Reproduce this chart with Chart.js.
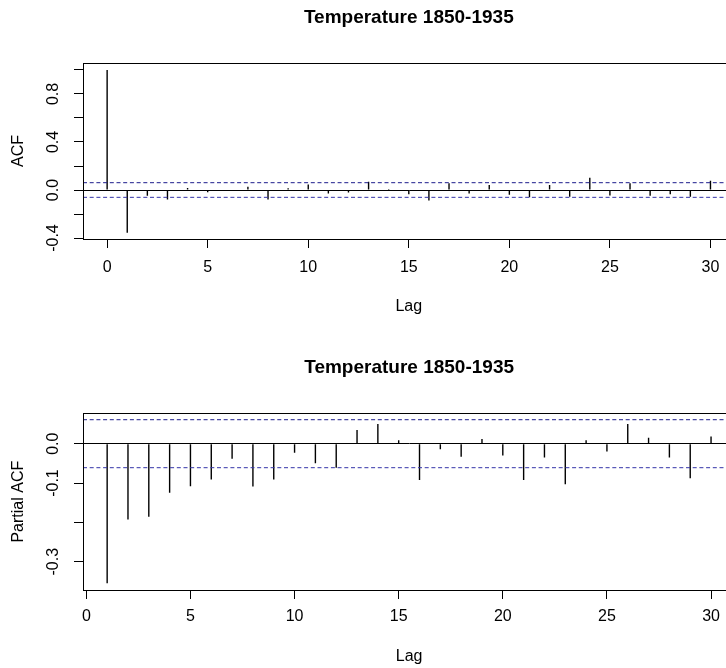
<!DOCTYPE html>
<html><head><meta charset="utf-8">
<script src="https://cdn.jsdelivr.net/npm/chart.js@4.4.1/dist/chart.umd.min.js"></script>
<style>
html,body{margin:0;padding:0;background:#fff;overflow:hidden;width:726px;height:668px;position:relative;}
canvas{position:absolute;left:0;}
</style></head><body>
<canvas id="c1" width="800" height="334" style="top:0px"></canvas>
<canvas id="c2" width="800" height="334" style="top:334px"></canvas>
<script>
const chartTitle = 'Temperature 1850-1935';
const acfLags = [0,1,2,3,4,5,6,7,8,9,10,11,12,13,14,15,16,17,18,19,20,21,22,23,24,25,26,27,28,29,30];
const acfValues = [1.000,-0.356,-0.047,-0.080,0.016,-0.019,0.004,0.028,-0.078,0.014,0.045,-0.028,-0.020,0.069,0.008,-0.036,-0.087,0.056,-0.028,0.042,-0.039,-0.061,0.042,-0.056,0.103,-0.045,0.056,-0.047,-0.036,-0.056,0.077];
const pacfLags = [1,2,3,4,5,6,7,8,9,10,11,12,13,14,15,16,17,18,19,20,21,22,23,24,25,26,27,28,29,30];
const pacfValues = [-0.355,-0.193,-0.186,-0.125,-0.108,-0.091,-0.038,-0.109,-0.091,-0.023,-0.050,-0.061,0.035,0.050,0.009,-0.092,-0.014,-0.033,0.012,-0.030,-0.092,-0.035,-0.103,0.009,-0.020,0.050,0.015,-0.035,-0.088,0.018];
const ciLimit = 0.061;
const xTickLabels = ['0','5','10','15','20','25','30'];
const acfYTickLabels = ['-0.4','0.0','0.4','0.8'];
const pacfYTickLabels = ['-0.3','-0.1','0.0'];

Chart.defaults.font.family = "'Liberation Sans', Arial, sans-serif";
Chart.defaults.color = '#000';

const framePlugin = {
  id: 'frame',
  afterDraw(chart) {
    const a = chart.chartArea, c = chart.ctx;
    c.save();
    c.strokeStyle = '#000'; c.lineWidth = 1;
    c.strokeRect(Math.round(a.left) + 0.5, Math.round(a.top) + 0.5, Math.round(a.right - a.left), Math.round(a.bottom - a.top));
    c.restore();
  }
};

function makePanel(id, o) {
  new Chart(document.getElementById(id), {
    type: 'bar',
    data: {
      datasets: [
        { type: 'bar', data: o.lags.map((l, i) => ({ x: l, y: o.values[i] })), backgroundColor: '#000', borderWidth: 0, barThickness: 1.4, inflateAmount: 0, grouped: false, order: 2 },
        { type: 'line', data: [{ x: o.xMin, y: o.ci }, { x: o.xMax, y: o.ci }], borderColor: '#1c1c8c', borderWidth: 1, borderDash: [4, 2.7], pointRadius: 0, fill: false, order: 1 },
        { type: 'line', data: [{ x: o.xMin, y: -o.ci }, { x: o.xMax, y: -o.ci }], borderColor: '#3434a8', borderWidth: 1, borderDash: [4, 2.7], pointRadius: 0, fill: false, order: 1 }
      ]
    },
    options: {
      responsive: false, animation: false, devicePixelRatio: 1,
      layout: { padding: { left: 0, right: o.padRight, top: 0, bottom: 0 } },
      plugins: {
        legend: { display: false }, tooltip: { enabled: false },
        title: { display: true, text: chartTitle, fullSize: false, color: '#000', font: { size: 19, weight: 'bold' }, padding: { top: o.titleTop, bottom: o.titleBottom } }
      },
      scales: {
        x: {
          type: 'linear', min: o.xMin, max: o.xMax, offset: false,
          afterFit: s => { s.height = o.xHeight; },
          ticks: { stepSize: 5, includeBounds: false, autoSkip: false, maxRotation: 0, color: '#000', font: { size: 16 }, padding: o.xTickPad,
            callback: v => { const t = String(Math.round(v)); return xTickLabels.includes(t) ? t : ''; } },
          grid: { offset: false, drawOnChartArea: false, tickLength: 9, tickColor: '#000', color: '#000' },
          border: { display: true, color: '#000', width: 1 },
          title: { display: true, text: 'Lag', color: '#000', font: { size: 16 }, padding: { top: 0, bottom: o.lagPad } }
        },
        y: {
          type: 'linear', min: o.yMin, max: o.yMax,
          afterFit: s => { s.width = 83; },
          ticks: { stepSize: o.yStep, includeBounds: false, autoSkip: false, minRotation: 90, maxRotation: 90, crossAlign: 'center', padding: 7, color: '#000', font: { size: 16 },
            callback: v => { const t = (Math.round(v * 10) / 10).toFixed(1); return o.yLabels.includes(t) ? t : ''; } },
          grid: { offset: false, tickLength: 9, tickColor: '#000', lineWidth: 1,
            color: c => (c.tick && Math.abs(c.tick.value) < 1e-9) ? '#000' : 'rgba(0,0,0,0)' },
          border: { display: true, color: '#000', width: 1 },
          title: { display: true, text: o.yTitle, color: '#000', font: { size: 16 }, padding: { top: 8.7, bottom: 0 } }
        }
      }
    },
    plugins: [framePlugin]
  });
}

makePanel('c1', {
  lags: acfLags, values: acfValues, ci: ciLimit, yTitle: 'ACF', yLabels: acfYTickLabels,
  xMin: -1.2, xMax: 31.2, yMin: -0.408, yMax: 1.058, yStep: 0.2,
  padRight: 65.4, titleTop: 6.3, titleBottom: 33.9, xHeight: 95, xTickPad: 10, lagPad: 17.4
});
makePanel('c2', {
  lags: pacfLags, values: pacfValues, ci: ciLimit, yTitle: 'Partial ACF', yLabels: pacfYTickLabels,
  xMin: -0.16, xMax: 31.16, yMin: -0.372, yMax: 0.0773, yStep: 0.1,
  padRight: 64.8, titleTop: 22.4, titleBottom: 34.1, xHeight: 78, xTickPad: 8, lagPad: 1.4
});
</script>
</body></html>
